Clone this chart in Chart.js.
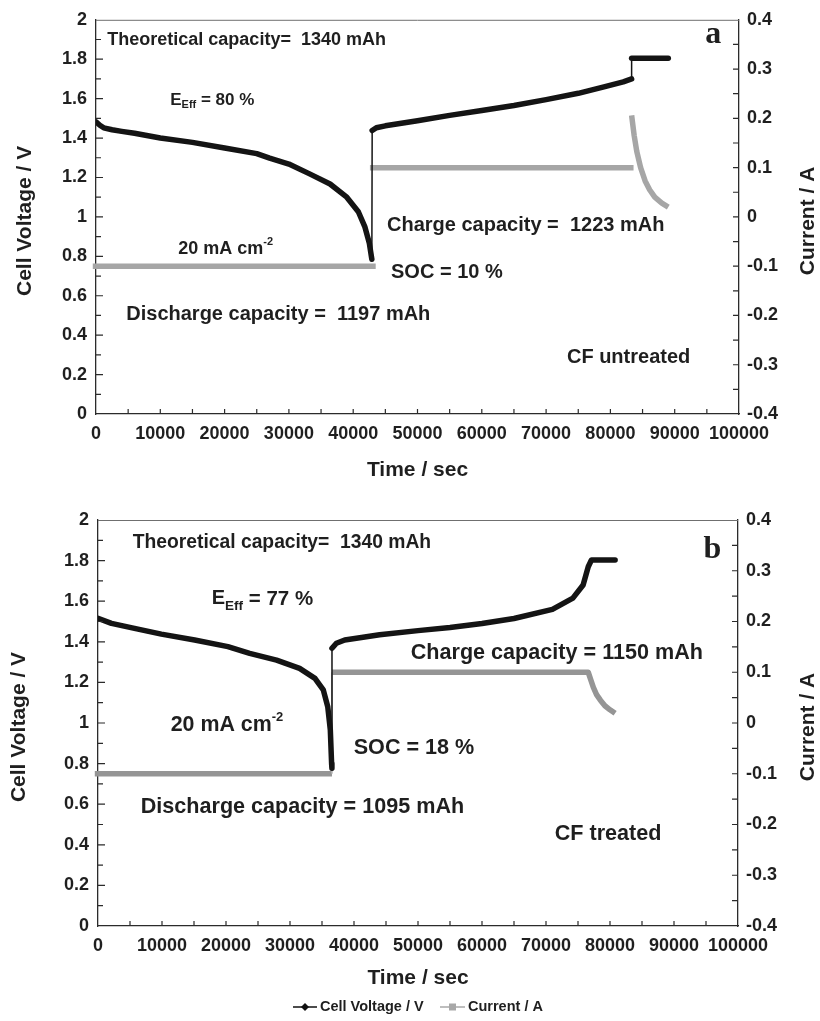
<!DOCTYPE html>
<html>
<head>
<meta charset="utf-8">
<script src="https://cdn.jsdelivr.net/npm/chart.js@4.4.0/dist/chart.umd.min.js"></script>
<style>
  body { margin: 0; background: #fff; }
  .panel { position: absolute; left: 0; width: 820px; }
  #panelA { top: 0; height: 490px; }
  #panelB { top: 500px; height: 521px; }
</style>
</head>
<body>
<div class="panel" id="panelA"><canvas id="chartA"></canvas></div>
<div class="panel" id="panelB"><canvas id="chartB"></canvas></div>
<script>
// panel a - CF untreated
const timeVoltA = [0, 600, 1200, 2500, 4000, 6000, 10000, 15000, 20000, 25000, 27000, 30000, 33300, 36400, 39000, 40800, 41800, 42500, 42900,
                   42950, 43600, 45000, 50000, 55000, 60000, 65000, 70000, 75000, 79000, 82000, 83300, 83300, 89000];
const voltA = [1.482, 1.465, 1.452, 1.442, 1.434, 1.424, 1.40, 1.378, 1.35, 1.321, 1.298, 1.268, 1.217, 1.167, 1.10, 1.026, 0.951, 0.868, 0.785,
               1.438, 1.452, 1.462, 1.488, 1.515, 1.54, 1.565, 1.595, 1.627, 1.66, 1.685, 1.70, 1.805, 1.805];
const timeCurrA = [-500, 43500, 43500, 42600, 83600, 83600, 83300, 83700, 84100, 84700, 85400, 86100, 86900, 88000, 89000];
const currA = [-0.1, -0.1, null, 0.1, 0.1, null, 0.206, 0.165, 0.133, 0.10, 0.073, 0.055, 0.040, 0.028, 0.020];

// panel b - CF treated
const timeVoltB = [0, 2100, 5700, 9900, 15100, 20300, 23700, 27900, 31500, 33900, 35200, 35900, 36300, 36500, 36550,
                   36560, 37250, 38550, 40900, 44000, 50000, 55000, 60000, 65000, 71000, 74200, 75800, 76600, 77100, 80800];
const voltB = [1.516, 1.491, 1.466, 1.438, 1.409, 1.376, 1.343, 1.31, 1.269, 1.22, 1.163, 1.08, 0.966, 0.80, 0.777,
               1.368, 1.393, 1.409, 1.42, 1.435, 1.455, 1.47, 1.49, 1.515, 1.56, 1.615, 1.68, 1.77, 1.803, 1.803];
const timeCurrB = [-500, 36560, 36560, 76600, 77000, 77400, 77900, 78500, 79200, 80000, 80800];
const currB = [-0.1, -0.1, 0.1, 0.1, 0.085, 0.07, 0.056, 0.045, 0.034, 0.026, 0.019];

// axis ticks
const timeTicks = { min: 0, max: 100000, step: 10000, minor: 5000 };
const voltTicks = { min: 0, max: 2, step: 0.2, minor: 0.1 };
const currTicks = { min: -0.4, max: 0.4, step: 0.1, minor: 0.05 };

const FONT = '"Liberation Sans", Arial, sans-serif';
const SERIF = '"Liberation Serif", "Times New Roman", serif';
const TXT = '#1f1f1f';
const AXIS = '#2b2b2b';

// text notes: [time, voltage, [text, size, dy]...]
const notesA = [
    [1760, 1.899, [['Theoretical capacity=  1340 mAh', 18]]],
    [11540, 1.59, [['E', 17], ['Eff', 11, 4], [' = 80 %', 17]]],
    [12790, 0.838, [['20 mA cm', 18], ['-2', 11, -7]]],
    [4710, 0.504, [['Discharge capacity =  1197 mAh', 20]]],
    [45260, 0.958, [['Charge capacity =  1223 mAh', 20]]],
    [45880, 0.719, [['SOC = 10 %', 20]]],
    [73240, 0.285, [['CF untreated', 20]]]
];
const notesB = [
    [5420, 1.887, [['Theoretical capacity=  1340 mAh', 19.3]]],
    [17770, 1.611, [['E', 20], ['Eff', 13.5, 7], [' = 77 %', 20.5]]],
    [11360, 0.99, [['20 mA cm', 21.4], ['-2', 13, -7.5]]],
    [48860, 1.345, [['Charge capacity = 1150 mAh', 21.6]]],
    [39950, 0.877, [['SOC = 18 %', 21.6]]],
    [6670, 0.586, [['Discharge capacity = 1095 mAh', 21.6]]],
    [71360, 0.453, [['CF treated', 21.6]]]
];

function pts(xs, ys) {
    return xs.map((x, i) => ({ x: x, y: ys[i] }));
}

function label(v) {
    return String(Number(v.toFixed(2)));
}

function drawParts(ctx, parts, x, y) {
    let cx = x;
    parts.forEach(p => {
        ctx.font = 'bold ' + p[1] + 'px ' + FONT;
        ctx.fillText(p[0], cx, y + (p[2] || 0));
        cx += ctx.measureText(p[0]).width;
    });
}

function decor(p) {
    return {
        id: 'decor' + p.letter,
        afterDraw(chart) {
            const { ctx, chartArea: a, scales } = chart;
            ctx.save();
            // frame top line
            ctx.strokeStyle = '#6f6f6f';
            ctx.lineWidth = 1;
            ctx.beginPath();
            ctx.moveTo(a.left, a.top + 0.5);
            ctx.lineTo(a.right, a.top + 0.5);
            ctx.stroke();

            // inside tick marks
            ctx.strokeStyle = AXIS;
            ctx.lineWidth = 1.2;
            ctx.beginPath();
            for (let t = timeTicks.minor; t < timeTicks.max; t += timeTicks.minor) {
                const px = scales.x.getPixelForValue(t);
                ctx.moveTo(px, a.bottom);
                ctx.lineTo(px, a.bottom - 5);
            }
            for (let k = 1; k < 20; k++) {
                const py = scales.y.getPixelForValue(k * voltTicks.minor);
                ctx.moveTo(a.left, py);
                ctx.lineTo(a.left + (k % 2 ? 5 : 7), py);
            }
            for (let k = 1; k < 16; k++) {
                const py = scales.y1.getPixelForValue(currTicks.min + k * currTicks.minor);
                ctx.moveTo(a.right, py);
                ctx.lineTo(a.right - 6, py);
            }
            ctx.stroke();

            // axis titles
            ctx.fillStyle = TXT;
            ctx.textBaseline = 'middle';
            ctx.textAlign = 'center';
            ctx.font = 'bold 21px ' + FONT;
            ctx.fillText('Time / sec', (a.left + a.right) / 2, p.xTitleY);
            ctx.save();
            ctx.translate(p.yTitleX, (a.top + a.bottom) / 2 + 4);
            ctx.rotate(-Math.PI / 2);
            ctx.fillText('Cell Voltage / V', 0, 0);
            ctx.restore();
            ctx.save();
            ctx.translate(808.5, (a.top + a.bottom) / 2 + 4);
            ctx.rotate(-Math.PI / 2);
            ctx.fillText('Current / A', 0, 0);
            ctx.restore();

            // panel letter
            ctx.font = 'bold 32px ' + SERIF;
            ctx.textBaseline = 'alphabetic';
            ctx.fillText(p.letter, scales.x.getPixelForValue(96000), p.letterY);

            // notes
            ctx.textAlign = 'left';
            ctx.textBaseline = 'middle';
            p.notes.forEach(n => {
                drawParts(ctx, n[2], scales.x.getPixelForValue(n[0]), scales.y.getPixelForValue(n[1]));
            });

            // legend
            if (p.legendY) {
                const ly = p.legendY;
                ctx.lineWidth = 1.5;
                ctx.strokeStyle = '#111';
                ctx.beginPath(); ctx.moveTo(293, ly); ctx.lineTo(317, ly); ctx.stroke();
                ctx.fillStyle = '#111';
                ctx.beginPath();
                ctx.moveTo(305, ly - 4); ctx.lineTo(309, ly); ctx.lineTo(305, ly + 4); ctx.lineTo(301, ly);
                ctx.closePath(); ctx.fill();
                ctx.strokeStyle = '#a8a8a8';
                ctx.beginPath(); ctx.moveTo(440, ly); ctx.lineTo(465, ly); ctx.stroke();
                ctx.fillStyle = '#a8a8a8';
                ctx.fillRect(449, ly - 3.5, 7, 7);
                ctx.fillStyle = TXT;
                ctx.font = 'bold 14.5px ' + FONT;
                ctx.fillText('Cell Voltage / V', 320, ly);
                ctx.fillText('Current / A', 468, ly);
            }
            ctx.restore();
        }
    };
}

function makePanel(id, p) {
    const tickFont = { family: FONT, size: 18, weight: 'bold' };
    const jump = ctx => ctx.p1.parsed.x - ctx.p0.parsed.x < 60 && Math.abs(ctx.p1.parsed.y - ctx.p0.parsed.y) > 0.09;
    return new Chart(document.getElementById(id), {
        type: 'line',
        data: {
            datasets: [{
                label: 'Cell Voltage / V',
                data: pts(p.tV, p.v),
                yAxisID: 'y',
                borderColor: '#141414',
                borderWidth: 5.5,
                borderJoinStyle: 'round',
                borderCapStyle: 'round',
                pointRadius: 0,
                segment: { borderWidth: ctx => jump(ctx) ? 1.5 : undefined }
            }, {
                label: 'Current / A',
                data: pts(p.tI, p.i),
                yAxisID: 'y1',
                borderColor: p.grey,
                borderWidth: 5.5,
                borderJoinStyle: 'round',
                pointRadius: 0,
                spanGaps: false,
                clip: 6,
                segment: {
                    borderWidth: ctx => jump(ctx) ? 1.5 : undefined,
                    borderColor: ctx => jump(ctx) ? '#b4b4b4' : undefined
                }
            }]
        },
        options: {
            responsive: true,
            maintainAspectRatio: false,
            animation: false,
            layout: { padding: { top: p.padTop } },
            plugins: { legend: { display: false }, tooltip: { enabled: false } },
            scales: {
                x: {
                    type: 'linear', min: timeTicks.min, max: timeTicks.max,
                    grid: { display: false, drawTicks: false },
                    border: { color: AXIS, width: 1.3 },
                    ticks: { stepSize: timeTicks.step, color: TXT, font: tickFont, padding: 9, maxRotation: 0, autoSkip: false,
                             callback: v => String(v) },
                    afterFit: s => { s.height = p.xH; }
                },
                y: {
                    position: 'left', min: voltTicks.min, max: voltTicks.max,
                    grid: { display: false, drawTicks: false },
                    border: { color: AXIS, width: 1.3 },
                    ticks: { stepSize: voltTicks.step, color: TXT, font: tickFont, padding: 9, callback: v => label(v) },
                    afterFit: s => { s.width = p.leftW; }
                },
                y1: {
                    position: 'right', min: currTicks.min, max: currTicks.max,
                    grid: { display: false, drawTicks: false },
                    border: { color: AXIS, width: 1.3 },
                    ticks: { stepSize: currTicks.step, color: TXT, font: tickFont, padding: 8, callback: v => label(v) },
                    afterFit: s => { s.width = p.rightW; }
                }
            }
        },
        plugins: [decor(p)]
    });
}

makePanel('chartA', {
    tV: timeVoltA, v: voltA, tI: timeCurrA, i: currA, grey: '#a6a6a6',
    padTop: 13, xH: 76, leftW: 96, rightW: 81,
    xTitleY: 470, yTitleX: 25, letter: 'a', letterY: 43, notes: notesA
});
makePanel('chartB', {
    tV: timeVoltB, v: voltB, tI: timeCurrB, i: currB, grey: '#959595',
    padTop: 20, xH: 95, leftW: 98, rightW: 82,
    xTitleY: 478, yTitleX: 19.5, letter: 'b', letterY: 58, notes: notesB, legendY: 507
});
</script>
</body>
</html>
